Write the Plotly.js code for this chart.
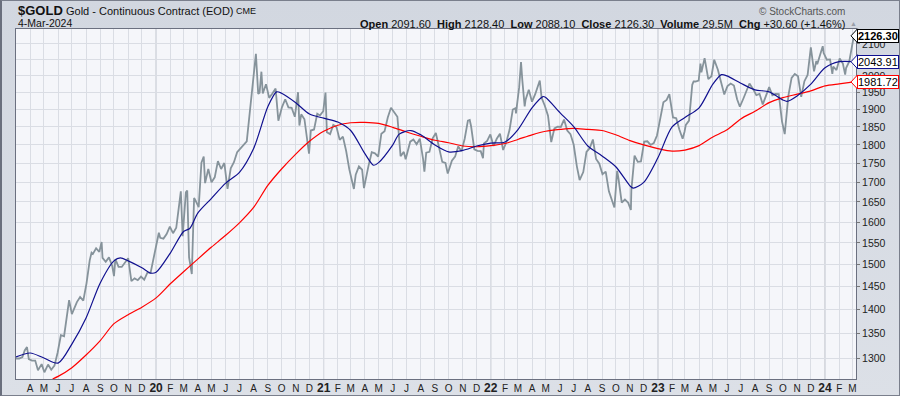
<!DOCTYPE html>
<html><head><meta charset="utf-8">
<script src="https://cdn.plot.ly/plotly-3.0.1.min.js"></script>
<style>
html,body{margin:0;padding:0;}
body{width:900px;height:396px;overflow:hidden;}
#wrap{position:relative;width:900px;height:396px;background:linear-gradient(#d2d7e0,#dce0e7);}
#chart{position:absolute;left:0;top:0;width:900px;height:396px;}
#frame{position:absolute;left:0;top:0;width:900px;height:396px;box-sizing:border-box;border:1px solid #7a7f8c;border-left:2px solid #6a6f7d;pointer-events:none;}
</style></head>
<body><div id="wrap"><div id="chart"></div><div id="frame"></div></div>
<script>
// ---------- DATA ----------
const gold2019 = [['2019-03-01',1299],['2019-03-08',1299],['2019-03-15',1302],['2019-03-20',1315],['2019-03-25',1322],['2019-03-29',1298],['2019-04-05',1295],['2019-04-12',1295],['2019-04-18',1276],['2019-04-26',1288],['2019-05-02',1272],['2019-05-10',1287],['2019-05-17',1277],['2019-05-24',1285],['2019-05-31',1311],['2019-06-07',1346],['2019-06-14',1344],['2019-06-21',1400],['2019-06-25',1420],['2019-07-01',1390],['2019-07-05',1400],['2019-07-12',1416],['2019-07-19',1427],['2019-07-26',1419],['2019-08-02',1457],['2019-08-09',1509],['2019-08-13',1527],['2019-08-16',1524],['2019-08-23',1537],['2019-08-30',1529],['2019-09-04',1552],['2019-09-06',1515],['2019-09-13',1506],['2019-09-20',1516],['2019-09-27',1497],['2019-10-01',1473],['2019-10-04',1512],['2019-10-11',1494],['2019-10-18',1494],['2019-10-25',1505],['2019-11-01',1514],['2019-11-08',1462],['2019-11-15',1468],['2019-11-22',1464],['2019-11-29',1472],['2019-12-06',1465],['2019-12-13',1481],['2019-12-20',1481],['2019-12-27',1515]];
const gold2020 = [['2020-01-03',1552],['2020-01-07',1574],['2020-01-10',1562],['2020-01-17',1560],['2020-01-24',1571],['2020-01-31',1589],['2020-02-07',1573],['2020-02-14',1586],['2020-02-21',1649],['2020-02-24',1677],['2020-02-28',1566],['2020-03-06',1674],['2020-03-09',1679],['2020-03-13',1516],['2020-03-19',1478],['2020-03-24',1660],['2020-03-27',1654],['2020-04-03',1637],['2020-04-09',1752],['2020-04-14',1768],['2020-04-17',1698],['2020-04-24',1735],['2020-05-01',1700],['2020-05-08',1713],['2020-05-15',1756],['2020-05-22',1735],['2020-05-29',1751],['2020-06-05',1683],['2020-06-12',1737],['2020-06-19',1753],['2020-06-26',1780],['2020-07-03',1790],['2020-07-10',1802],['2020-07-17',1810],['2020-07-24',1897],['2020-07-31',1986],['2020-08-06',2069],['2020-08-11',1946],['2020-08-14',1949],['2020-08-18',2013],['2020-08-21',1947],['2020-08-28',1975],['2020-09-04',1934],['2020-09-11',1947],['2020-09-18',1962],['2020-09-24',1868],['2020-10-02',1907],['2020-10-09',1930],['2020-10-16',1906],['2020-10-23',1905],['2020-10-30',1879],['2020-11-06',1951],['2020-11-09',1854],['2020-11-13',1886],['2020-11-20',1872],['2020-11-30',1776],['2020-12-04',1840],['2020-12-11',1843],['2020-12-18',1888],['2020-12-24',1883],['2020-12-31',1895]];
const gold2021 = [['2021-01-05',1950],['2021-01-08',1835],['2021-01-15',1830],['2021-01-22',1856],['2021-01-29',1850],['2021-02-05',1814],['2021-02-12',1823],['2021-02-19',1784],['2021-02-26',1734],['2021-03-05',1699],['2021-03-08',1683],['2021-03-12',1720],['2021-03-19',1742],['2021-03-26',1733],['2021-03-30',1685],['2021-04-09',1744],['2021-04-16',1780],['2021-04-23',1777],['2021-04-30',1768],['2021-05-07',1831],['2021-05-14',1838],['2021-05-21',1877],['2021-05-28',1905],['2021-06-04',1892],['2021-06-11',1879],['2021-06-18',1769],['2021-06-25',1781],['2021-06-29',1761],['2021-07-09',1809],['2021-07-16',1815],['2021-07-23',1802],['2021-07-30',1817],['2021-08-06',1763],['2021-08-09',1728],['2021-08-13',1779],['2021-08-20',1781],['2021-08-27',1818],['2021-09-03',1833],['2021-09-10',1792],['2021-09-17',1754],['2021-09-24',1751],['2021-09-29',1723],['2021-10-08',1757],['2021-10-15',1768],['2021-10-22',1796],['2021-10-29',1783],['2021-11-05',1817],['2021-11-12',1868],['2021-11-16',1870],['2021-11-19',1852],['2021-11-26',1788],['2021-12-03',1784],['2021-12-10',1783],['2021-12-15',1764],['2021-12-17',1804],['2021-12-24',1811],['2021-12-31',1829]];
const gold2022 = [['2022-01-07',1797],['2022-01-14',1817],['2022-01-21',1831],['2022-01-28',1786],['2022-02-04',1808],['2022-02-11',1842],['2022-02-18',1900],['2022-02-24',1904],['2022-02-25',1889],['2022-03-04',1966],['2022-03-08',2043],['2022-03-11',1985],['2022-03-16',1909],['2022-03-18',1929],['2022-03-25',1958],['2022-04-01',1923],['2022-04-08',1945],['2022-04-18',1986],['2022-04-22',1934],['2022-04-29',1911],['2022-05-06',1882],['2022-05-13',1808],['2022-05-20',1846],['2022-05-27',1851],['2022-06-03',1850],['2022-06-10',1871],['2022-06-17',1840],['2022-06-24',1830],['2022-07-01',1801],['2022-07-08',1742],['2022-07-14',1706],['2022-07-22',1727],['2022-07-29',1781],['2022-08-05',1791],['2022-08-12',1815],['2022-08-19',1762],['2022-08-26',1749],['2022-09-02',1721],['2022-09-09',1728],['2022-09-16',1677],['2022-09-23',1655],['2022-09-28',1636],['2022-10-04',1730],['2022-10-07',1709],['2022-10-14',1648],['2022-10-21',1656],['2022-10-28',1648],['2022-11-03',1630],['2022-11-04',1680],['2022-11-11',1771],['2022-11-18',1754],['2022-11-25',1755],['2022-12-02',1809],['2022-12-09',1810],['2022-12-16',1800],['2022-12-23',1805],['2022-12-30',1826]];
const gold2023 = [['2023-01-06',1870],['2023-01-13',1921],['2023-01-20',1928],['2023-01-26',1945],['2023-02-03',1877],['2023-02-10',1875],['2023-02-17',1842],['2023-02-24',1817],['2023-02-28',1836],['2023-03-03',1856],['2023-03-10',1868],['2023-03-17',1973],['2023-03-20',1983],['2023-03-24',1983],['2023-03-31',1986],['2023-04-04',2038],['2023-04-06',2011],['2023-04-13',2055],['2023-04-21',1990],['2023-04-28',1999],['2023-05-04',2050],['2023-05-12',2019],['2023-05-19',1981],['2023-05-26',1944],['2023-05-30',1959],['2023-06-02',1969],['2023-06-09',1977],['2023-06-16',1971],['2023-06-23',1930],['2023-06-29',1908],['2023-07-07',1933],['2023-07-14',1960],['2023-07-20',1977],['2023-07-28',1960],['2023-08-04',1942],['2023-08-11',1946],['2023-08-18',1915],['2023-08-25',1940],['2023-09-01',1966],['2023-09-08',1942],['2023-09-15',1946],['2023-09-22',1945],['2023-09-29',1866],['2023-10-05',1830],['2023-10-13',1941],['2023-10-20',1994],['2023-10-27',2006],['2023-11-03',1999],['2023-11-10',1937],['2023-11-17',1984],['2023-11-24',2003],['2023-12-01',2089],['2023-12-08',2014],['2023-12-13',2046],['2023-12-15',2036],['2023-12-22',2069],['2023-12-27',2093],['2023-12-29',2071]];
const gold2024 = [['2024-01-05',2050],['2024-01-12',2051],['2024-01-17',2006],['2024-01-19',2029],['2024-01-26',2018],['2024-02-02',2054],['2024-02-09',2038],['2024-02-14',2004],['2024-02-16',2024],['2024-02-23',2045],['2024-03-01',2095],['2024-03-04',2126.3]];

const ma50Dates  = ['2019-03-01','2019-04-01','2019-05-01','2019-06-01','2019-07-01','2019-08-01','2019-09-01','2019-10-01','2019-10-15','2019-11-01','2019-12-01','2019-12-20','2020-01-01','2020-02-01','2020-03-01','2020-03-15','2020-04-01','2020-05-01','2020-06-01','2020-07-01','2020-08-01','2020-09-01','2020-09-20','2020-10-01','2020-11-01','2020-12-01','2021-01-01','2021-02-01','2021-03-01','2021-04-01','2021-04-20','2021-05-01','2021-06-01','2021-06-15','2021-07-10','2021-08-01','2021-09-01','2021-10-01','2021-11-01','2021-12-01','2022-01-01','2022-02-01','2022-03-01','2022-04-01','2022-04-25','2022-05-01','2022-06-01','2022-07-01','2022-08-01','2022-09-01','2022-10-01','2022-11-01','2022-11-08','2022-12-01','2023-01-01','2023-02-01','2023-03-01','2023-04-01','2023-05-01','2023-05-20','2023-06-01','2023-07-01','2023-08-01','2023-09-01','2023-10-01','2023-10-10','2023-11-01','2023-12-01','2024-01-01','2024-02-01','2024-03-04'];
const ma50Values = [1302,1310,1300,1290,1328,1382,1458,1508,1515,1508,1492,1480,1482,1526,1577,1585,1622,1659,1698,1726,1790,1908,1952,1948,1920,1887,1875,1864,1840,1776,1745,1752,1800,1830,1840,1828,1800,1781,1785,1797,1805,1808,1842,1905,1938,1935,1891,1851,1797,1770,1741,1691,1685,1700,1765,1850,1877,1905,1975,2004,2000,1978,1958,1952,1928,1924,1940,1975,2025,2044,2043.91];

const ma200Dates  = ['2019-05-20','2019-06-01','2019-07-01','2019-08-01','2019-09-01','2019-10-01','2019-11-01','2019-12-01','2020-01-01','2020-02-01','2020-03-01','2020-04-01','2020-05-01','2020-06-01','2020-07-01','2020-08-01','2020-09-01','2020-10-01','2020-11-01','2020-12-01','2021-01-01','2021-02-01','2021-03-01','2021-04-01','2021-05-01','2021-06-01','2021-07-01','2021-08-01','2021-09-01','2021-10-01','2021-11-01','2021-12-01','2022-01-01','2022-02-01','2022-03-01','2022-04-01','2022-05-01','2022-06-01','2022-07-01','2022-08-01','2022-09-01','2022-10-01','2022-11-01','2022-12-01','2023-01-01','2023-02-01','2023-03-01','2023-04-01','2023-05-01','2023-06-01','2023-07-01','2023-08-01','2023-09-01','2023-10-01','2023-11-01','2023-12-01','2024-01-01','2024-02-01','2024-03-04'];
const ma200Values = [1259,1264,1281,1306,1335,1370,1389,1405,1425,1456,1483,1512,1540,1568,1598,1636,1692,1735,1775,1810,1838,1855,1862,1863,1860,1849,1836,1824,1813,1806,1797,1795,1798,1804,1815,1828,1838,1843,1846,1843,1840,1828,1812,1800,1790,1783,1786,1798,1822,1842,1873,1895,1920,1935,1945,1955,1970,1976,1981.72];

const monthLetters = ['J','F','M','A','M','J','J','A','S','O','N','D'];
const yearLabels   = {2020:'20',2021:'21',2022:'22',2023:'23',2024:'24'};
const yTickValues  = [1300,1350,1400,1450,1500,1550,1600,1650,1700,1750,1800,1850,1900,1950,2000,2050,2100];
const yTickLabels  = ['1300','1350','1400','1450','1500','1550','1600','1650','1700','1750','1800','1850','1900','1950','2000','','2100'];

const symbolText  = '$GOLD';
const nameText    = 'Gold - Continuous Contract (EOD)';
const exchText    = 'CME';
const dateText    = '4-Mar-2024';
const quoteText   = '<b>Open</b> 2091.60  <b>High</b> 2128.40  <b>Low</b> 2088.10  <b>Close</b> 2126.30  <b>Volume</b> 29.5M  <b>Chg</b> +30.60 (+1.46%)';
const creditText  = '\u00a9 StockCharts.com';
const lastClose = 2126.30, lastMA50 = 2043.91, lastMA200 = 1981.72;

// ---------- BUILD ----------
const allGold = [].concat(gold2019,gold2020,gold2021,gold2022,gold2023,gold2024);
const priceX = allGold.map(d=>d[0]);
const priceY = allGold.map(d=>d[1]);

const tickvals=[], ticktext=[];
for (let y=2019;y<=2024;y++){
  for (let m=1;m<=12;m++){
    if (y===2019 && m<4) continue;
    if (y===2024 && m>3) break;
    tickvals.push(y+'-'+String(m).padStart(2,'0')+'-01');
    if (m===1 && yearLabels[y]) ticktext.push('<span style="font-size:12px"><b>'+yearLabels[y]+'</b></span>');
    else ticktext.push(monthLetters[m-1]);
  }
}

const L=16,R=856,T=29,B=379;
const px = x => (x-L)/(R-L);
const py = y => (B-y)/(B-T);
const yr0 = Math.log10(1259), yr1 = Math.log10(2148.6);
const pyVal = v => (Math.log10(v)-yr0)/(yr1-yr0);

const FONT = 'Arial, "Liberation Sans", sans-serif';

const traces = [
  {x:priceX, y:priceY, type:'scatter', mode:'lines', line:{color:'#86939b', width:1.8}, hoverinfo:'skip'},
  {x:ma200Dates, y:ma200Values, type:'scatter', mode:'lines', line:{color:'#ff0000', width:1.2, shape:'spline', smoothing:0.8}, hoverinfo:'skip'},
  {x:ma50Dates, y:ma50Values, type:'scatter', mode:'lines', line:{color:'#10108f', width:1.2, shape:'spline', smoothing:0.8}, hoverinfo:'skip'}
];

const shapes = Object.keys(yearLabels).map(y=>({
  type:'line', xref:'x', yref:'paper', x0:y+'-01-01', x1:y+'-01-01', y0:0, y1:1,
  line:{color:'#b6bac3', width:1}, layer:'between'
}));

function tag(v, color){
  const h = 7/(B-T);
  const yc = pyVal(v);
  const x0 = px(851), x1 = px(857.5);
  return {type:'path', xref:'paper', yref:'paper',
    path:`M ${x1},${yc+h} L ${x0},${yc} L ${x1},${yc-h} Z`,
    fillcolor:'#ffffff', line:{color:color, width:1}, layer:'above'};
}
shapes.push(tag(lastClose,'#000000'), tag(lastMA50,'#10108f'), tag(lastMA200,'#ff0000'));

function box(v, text, color, bold){
  return {xref:'paper', yref:'y', x:px(857), y:Math.log10(v), xanchor:'left', yanchor:'middle',
    text: bold?'<b>'+text+'</b>':text, showarrow:false, bgcolor:'#ffffff', bordercolor:color,
    borderwidth:1, borderpad:0, font:{family:FONT, size:11, color:'#000'}};
}

const annotations = [
  {xref:'paper',yref:'paper',x:px(16),y:py(10.5),xanchor:'left',yanchor:'middle',showarrow:false,text:'<b>'+symbolText+'</b>',font:{family:FONT,size:13,color:'#111'}},
  {xref:'paper',yref:'paper',x:px(64),y:py(11),xanchor:'left',yanchor:'middle',showarrow:false,text:nameText,font:{family:FONT,size:11,color:'#111'}},
  {xref:'paper',yref:'paper',x:px(234),y:py(11.5),xanchor:'left',yanchor:'middle',showarrow:false,text:exchText,font:{family:FONT,size:9,color:'#111'}},
  {xref:'paper',yref:'paper',x:px(16),y:py(23.5),xanchor:'left',yanchor:'middle',showarrow:false,text:dateText,font:{family:FONT,size:10.5,color:'#111'}},
  {xref:'paper',yref:'paper',x:px(847),y:py(24),xanchor:'right',yanchor:'middle',showarrow:false,text:quoteText,font:{family:FONT,size:11,color:'#111'}},
  {xref:'paper',yref:'paper',x:px(848),y:py(23.5),xanchor:'left',yanchor:'middle',showarrow:false,text:'\u25b2',font:{family:FONT,size:7,color:'#9a9ea8'}},
  {xref:'paper',yref:'paper',x:px(847),y:py(11),xanchor:'right',yanchor:'middle',showarrow:false,text:creditText,font:{family:FONT,size:10,color:'#555'}},
  box(lastClose,'2126.30','#000000',true),
  box(lastMA50,'2043.91','#10108f',false),
  box(lastMA200,'1981.72','#ff0000',false)
];

const layout = {
  width:900, height:396,
  margin:{l:L, r:900-R, t:T, b:396-B, pad:0},
  paper_bgcolor:'rgba(0,0,0,0)', plot_bgcolor:'#f5f6fa',
  showlegend:false,
  font:{family:FONT, size:11, color:'#222'},
  xaxis:{type:'date', range:['2019-03-01','2024-03-08 16:00'], tickmode:'array', tickvals:tickvals, ticktext:ticktext,
    ticks:'', tickangle:0, showgrid:true, gridcolor:'#dadde4', gridwidth:1, showline:true, mirror:true,
    linecolor:'#6b7080', linewidth:1, zeroline:false, tickfont:{family:FONT,size:10,color:'#222'}, fixedrange:true},
  yaxis:{type:'log', side:'right', range:[yr0, yr1], tickmode:'array', tickvals:yTickValues, ticktext:yTickLabels,
    ticks:'outside', ticklen:3, tickcolor:'#777', showgrid:true, gridcolor:'#dadde4', gridwidth:1, showline:true, mirror:true,
    linecolor:'#6b7080', linewidth:1, zeroline:false, tickfont:{family:FONT,size:10.5,color:'#222'}, fixedrange:true},
  shapes:shapes,
  annotations:annotations
};

Plotly.newPlot('chart', traces, layout, {displayModeBar:false, staticPlot:true});
</script>
</body></html>
